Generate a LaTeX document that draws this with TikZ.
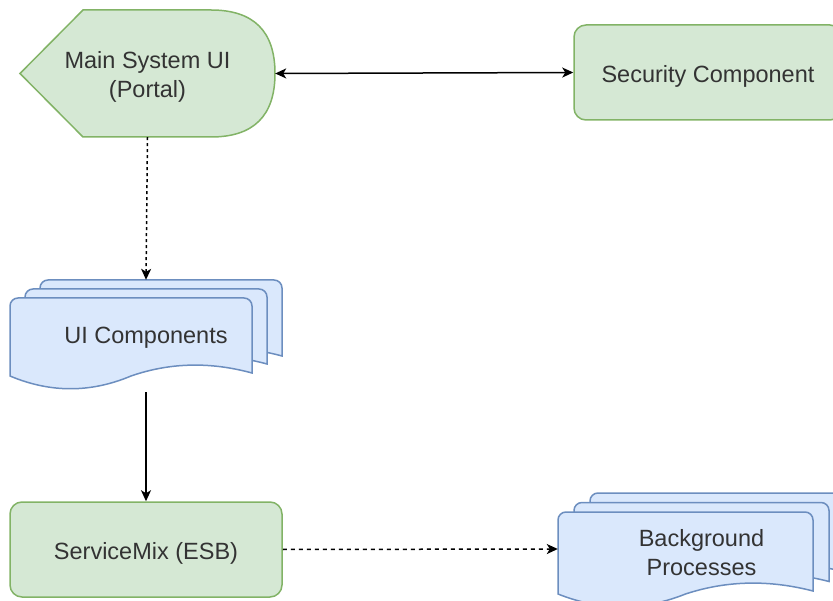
\documentclass[tikz,border=0pt]{standalone}
\usepackage{fontspec}
\setmainfont{Liberation Sans}
\usetikzlibrary{arrows.meta}
\definecolor{gfill}{HTML}{D5E8D4}
\definecolor{gline}{HTML}{82B366}
\definecolor{bfill}{HTML}{DAE8FC}
\definecolor{bline}{HTML}{6C8EBF}
\definecolor{ink}{HTML}{333333}

% one sheet of a document stack: left, top, width, height at the edges
\newcommand\docsheet[4]{%
  \filldraw[doc] (#1,{#2+#4}) -- (#1,{#2+8}) arc[start angle=180,end angle=270,radius=8]
    -- ({#1+#3-8},#2) arc[start angle=270,end angle=360,radius=8]
    -- ({#1+#3},{#2+#4-3})
    .. controls ({#1+#3*5/6},{#2+#4-14}) and ({#1+#3*2/3},{#2+#4-14}) .. ({#1+#3/2},{#2+#4})
    .. controls ({#1+#3/3},{#2+#4+17}) and ({#1+#3/6},{#2+#4+17}) .. (#1,{#2+#4}) -- cycle;}

\begin{document}
\begin{tikzpicture}[x=1pt,y=-1pt,
  frame/.style={inner sep=0pt},
  lbl/.style={font=\fontsize{23.5}{29.5}\selectfont, text=ink, align=center, inner sep=0pt, yshift=-3.5pt},
  greenbox/.style={draw=gline, fill=gfill, line width=1.5pt, rounded corners=12pt, inner sep=0pt},
  greenline/.style={draw=gline, fill=gfill, line width=1.5pt},
  doc/.style={draw=bline, fill=bfill, line width=1.5pt},
  tip/.tip={Stealth[length=11pt,width=10pt,inset=3pt]},
  link/.style={draw=black, line width=1.5pt, -tip},
  biarrow/.style={draw=black, line width=1.5pt, tip-tip},
]
\clip (0,0) rectangle (833,601);

% portal display shape
\filldraw[greenline] (20,73.5) -- (83,10) -- (211,10)
  .. controls (253.7,10) and (275,31.2) .. (275,73.5)
  .. controls (275,115.8) and (253.7,137) .. (211,137) -- (83,137) -- cycle;
\node[frame, minimum width=255pt, minimum height=127pt] (main) at (147.5,73.5) {};
\node[lbl] (mainText) at (main.center) {Main System UI\\(Portal)};

\node[greenbox, minimum width=268pt, minimum height=95pt] (sec) at (708,72.5) {};
\node[lbl] (secText) at (sec.center) {Security Component};

% UI components stack
\docsheet{40}{280}{242}{79}
\docsheet{25}{289}{242}{78}
\docsheet{10}{298}{242}{78}
\node[frame, minimum width=272pt, minimum height=108pt] (ui) at (146,334) {};
\node[lbl] (uiText) at (ui.center) {UI Components};

\node[greenbox, minimum width=272pt, minimum height=95pt] (esb) at (146,549.5) {};
\node[lbl] (esbText) at (esb.center) {ServiceMix (ESB)};

% background processes stack
\docsheet{590}{493}{255}{82}
\docsheet{574}{502.5}{255}{82}
\docsheet{558}{512}{255}{82}
\node[frame, minimum width=287pt, minimum height=112pt] (bg) at (701.5,549) {};
\node[lbl] (bgText) at (bg.center) {Background\\Processes};

% connectors
\draw[biarrow] (main.east) -- (sec.west);
\draw[link, dash pattern=on 3pt off 3pt] (main.south) -- (ui.north);
\draw[link, shorten <=4pt] (ui.south) -- (esb.north);
\draw[link, dash pattern=on 4pt off 4pt] (esb.east) -- (bg.west);
\end{tikzpicture}
\end{document}
